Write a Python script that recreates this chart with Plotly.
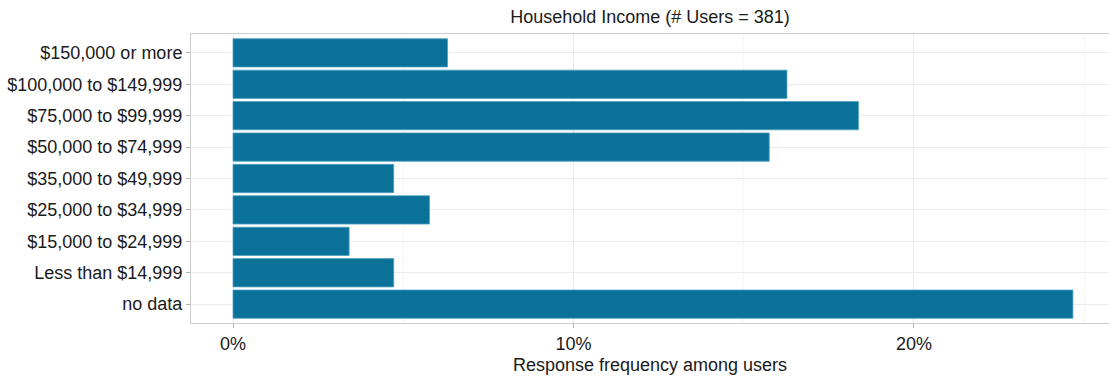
import plotly.graph_objects as go

categories = [
    "no data",
    "Less than $14,999",
    "$15,000 to $24,999",
    "$25,000 to $34,999",
    "$35,000 to $49,999",
    "$50,000 to $74,999",
    "$75,000 to $99,999",
    "$100,000 to $149,999",
    "$150,000 or more",
]
percent = [24.67, 4.72, 3.41, 5.77, 4.72, 15.75, 18.37, 16.27, 6.30]
x_ticks = [0, 10, 20]
x_tick_labels = ["0%", "10%", "20%"]

font_family = "Liberation Sans, Arial, Helvetica, sans-serif"
txt_color = "#1a1a1a"

fig = go.Figure(
    go.Bar(
        x=percent,
        y=categories,
        orientation="h",
        width=0.9,
        marker=dict(color="#0A7299", line=dict(color="#4f9fc0", width=0.8)),
    )
)

fig.update_layout(
    width=1109,
    height=377,
    margin=dict(l=191, r=0, t=34, b=54, autoexpand=False),
    paper_bgcolor="white",
    plot_bgcolor="white",
    showlegend=False,
    font=dict(family=font_family, color=txt_color, size=18),
    title=dict(
        text="Household Income (# Users = 381)",
        x=0.5,
        xref="paper",
        xanchor="center",
        y=1 - 17 / 377,
        yanchor="middle",
        font=dict(size=18, color=txt_color, family=font_family),
    ),
)

fig.update_xaxes(
    range=[-1.234, 25.73],
    tickvals=x_ticks,
    ticktext=x_tick_labels,
    showgrid=True,
    gridcolor="#ebebeb",
    gridwidth=1,
    minor=dict(dtick=5, tick0=0, showgrid=True, gridcolor="#f5f5f5", gridwidth=0.6, ticklen=0),
    zeroline=False,
    ticks="outside",
    ticklen=4,
    tickcolor="#b3b3b3",
    tickfont=dict(size=18, color=txt_color),
    title=dict(text="Response frequency among users", font=dict(size=18, color=txt_color), standoff=5),
    showline=True,
    linecolor="#cccccc",
    linewidth=1,
    mirror=True,
    fixedrange=True,
    automargin=False,
)

fig.update_yaxes(
    categoryorder="array",
    categoryarray=categories,
    range=[-0.6, 8.6],
    showgrid=True,
    gridcolor="#ebebeb",
    gridwidth=1,
    zeroline=False,
    ticks="outside",
    ticklen=4,
    tickcolor="#b3b3b3",
    tickfont=dict(size=18, color=txt_color),
    showline=True,
    linecolor="#cccccc",
    linewidth=1,
    mirror=False,
    fixedrange=True,
    automargin=False,
)

fig.write_html("out.html", config=dict(displayModeBar=False))

with open("out.html", "r", encoding="utf-8") as f:
    html = f.read()
html = html.replace("<head>", "<head><style>html,body{margin:0;padding:0;overflow:hidden;}</style>", 1)
with open("out.html", "w", encoding="utf-8") as f:
    f.write(html)
